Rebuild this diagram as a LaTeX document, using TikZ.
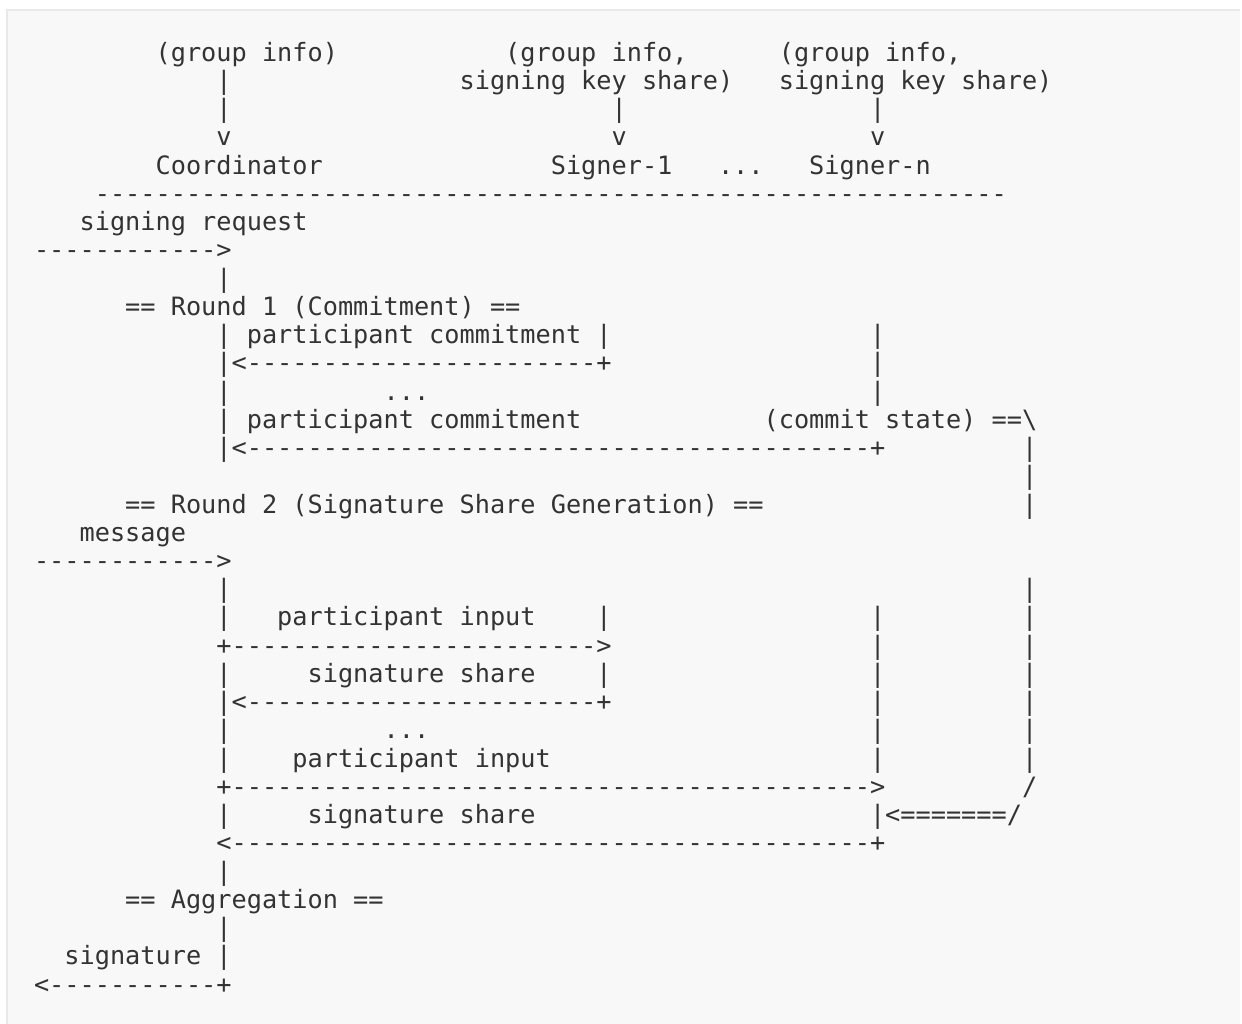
\documentclass[tikz,border=0pt]{standalone}
\usepackage{fontspec}
\setmonofont{DejaVu Sans Mono}
\usepackage{tikz}
\definecolor{boxgray}{HTML}{F8F8F8}
\definecolor{edgegray}{HTML}{E9E9E9}
\definecolor{inkgray}{HTML}{333333}

\begin{document}
\begin{tikzpicture}[x=15.2pt, y=-28.24pt,
  txt/.style={anchor=mid west, inner sep=0pt, outer sep=0pt, text=inkgray,
    font=\ttfamily\fontsize{25.25pt}{28pt}\selectfont}]
\useasboundingbox (-34pt,30.76pt) rectangle (1208pt,-992.24pt);
\fill[boxgray] (-28pt,21.76pt) rectangle (1206pt,-1000pt);
\draw[edgegray, line width=2pt] (-27pt,-1000pt) -- (-27pt,20.76pt) -- (1206pt,20.76pt);
% participants
\node[txt] (gi0) at (8,1) {(group info)};
\node[txt] (gi1) at (31,1) {(group info,};
\node[txt] (gin) at (49,1) {(group info,};
\node[txt] (p2a) at (12,2) {|};
\node[txt] (ks1) at (28,2) {signing key share)};
\node[txt] (ksn) at (49,2) {signing key share)};
\node[txt] (p3a) at (12,3) {|};
\node[txt] (p3b) at (38,3) {|};
\node[txt] (p3c) at (55,3) {|};
\node[txt] (v4a) at (12,4) {v};
\node[txt] (v4b) at (38,4) {v};
\node[txt] (v4c) at (55,4) {v};
\node[txt] (coord) at (8,5) {Coordinator};
\node[txt] (sig1) at (34,5) {Signer-1};
\node[txt] (sigdots) at (45,5) {...};
\node[txt] (sign) at (51,5) {Signer-n};
\node[txt] (sepline) at (4,6) {------------------------------------------------------------};
% round 1
\node[txt] (sreq) at (3,7) {signing request};
\node[txt] (sreqarr) at (0,8) {------------>};
\node[txt] (p9a) at (12,9) {|};
\node[txt] (round1) at (6,10) {== Round 1 (Commitment) ==};
\node[txt] (pc1) at (12,11) {| participant commitment |};
\node[txt] (p11c) at (55,11) {|};
\node[txt] (pc1arr) at (12,12) {|<-----------------------+};
\node[txt] (p12c) at (55,12) {|};
\node[txt] (p13a) at (12,13) {|};
\node[txt] (dots1) at (23,13) {...};
\node[txt] (p13c) at (55,13) {|};
\node[txt] (pcn) at (12,14) {| participant commitment};
\node[txt] (cstate) at (48,14) {(commit state) ==\textbackslash};
\node[txt] (pcnarr) at (12,15) {|<-----------------------------------------+};
\node[txt] (p15d) at (65,15) {|};
\node[txt] (p16d) at (65,16) {|};
% round 2
\node[txt] (round2) at (6,17) {== Round 2 (Signature Share Generation) ==};
\node[txt] (p17d) at (65,17) {|};
\node[txt] (msg) at (3,18) {message};
\node[txt] (msgarr) at (0,19) {------------>};
\node[txt] (p20a) at (12,20) {|};
\node[txt] (p20d) at (65,20) {|};
\node[txt] (p21a) at (12,21) {|};
\node[txt] (pin1) at (16,21) {participant input};
\node[txt] (p21b) at (37,21) {|};
\node[txt] (p21c) at (55,21) {|};
\node[txt] (p21d) at (65,21) {|};
\node[txt] (pin1arr) at (12,22) {+------------------------>};
\node[txt] (p22c) at (55,22) {|};
\node[txt] (p22d) at (65,22) {|};
\node[txt] (p23a) at (12,23) {|};
\node[txt] (ss1) at (18,23) {signature share};
\node[txt] (p23b) at (37,23) {|};
\node[txt] (p23c) at (55,23) {|};
\node[txt] (p23d) at (65,23) {|};
\node[txt] (ss1arr) at (12,24) {|<-----------------------+};
\node[txt] (p24c) at (55,24) {|};
\node[txt] (p24d) at (65,24) {|};
\node[txt] (p25a) at (12,25) {|};
\node[txt] (dots2) at (23,25) {...};
\node[txt] (p25c) at (55,25) {|};
\node[txt] (p25d) at (65,25) {|};
\node[txt] (p26a) at (12,26) {|};
\node[txt] (pinn) at (17,26) {participant input};
\node[txt] (p26c) at (55,26) {|};
\node[txt] (p26d) at (65,26) {|};
\node[txt] (pinnarr) at (12,27) {+------------------------------------------>};
\node[txt] (bend1) at (65,27) {/};
\node[txt] (p28a) at (12,28) {|};
\node[txt] (ssn) at (18,28) {signature share};
\node[txt] (back) at (55,28) {|<=======/};
\node[txt] (ssnarr) at (12,29) {<------------------------------------------+};
% aggregation
\node[txt] (p30a) at (12,30) {|};
\node[txt] (aggr) at (6,31) {== Aggregation ==};
\node[txt] (p32a) at (12,32) {|};
\node[txt] (sigout) at (2,33) {signature |};
\node[txt] (sigarr) at (0,34) {<-----------+};

\end{tikzpicture}
\end{document}
